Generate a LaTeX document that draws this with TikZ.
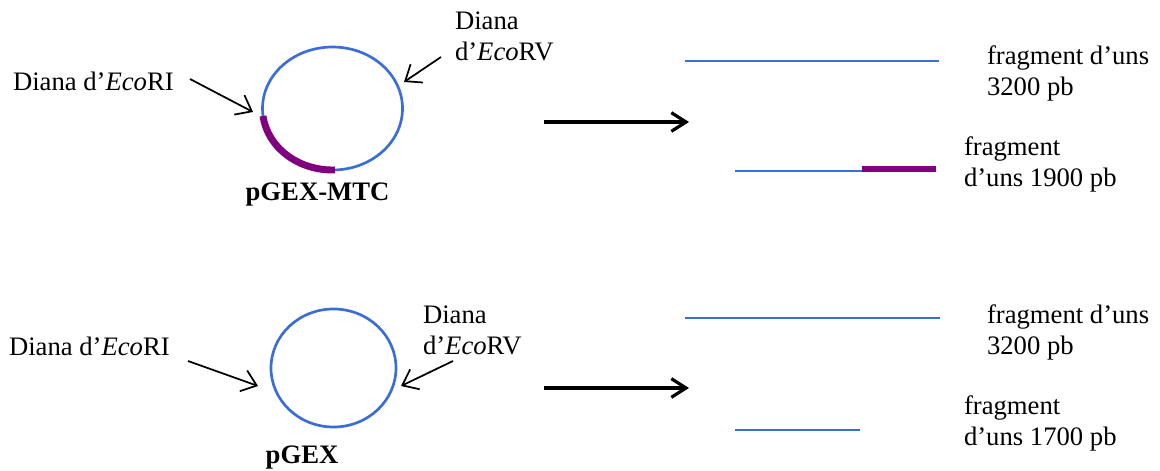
\documentclass[tikz,border=0pt]{standalone}
\usepackage{fontspec}
\setmainfont{Liberation Serif}
\usetikzlibrary{arrows.meta}
\definecolor{dnablue}{RGB}{58,110,214}
\definecolor{insertpurple}{RGB}{128,0,128}
\tikzset{
  lbl/.style={inner sep=0pt, outer sep=0pt, anchor=north west, align=left, font=\fontsize{20}{23.3}\selectfont},
  namelbl/.style={inner sep=0pt, outer sep=0pt, anchor=north, font=\fontsize{20}{23.3}\selectfont\bfseries},
  plasmid/.style={draw=dnablue, line width=2pt},
  dnaline/.style={draw=dnablue, line width=2pt},
  insertline/.style={draw=insertpurple, line width=5.2pt},
  sitearrow/.style={draw=black, line width=1.3pt, -{Straight Barb[length=10.5pt,width=16.5pt,line width=1.3pt]}},
  mainarrow/.style={draw=black, line width=2.4pt, -{Straight Barb[length=11pt,width=14pt,line width=2.4pt]}}
}
\begin{document}
\begin{tikzpicture}[x=0.75pt,y=0.75pt]
\useasboundingbox (0,0) rectangle (1160,-471);

% ---------- top: pGEX-MTC ----------
\coordinate (p1) at (332.5,-108.5);
\draw[plasmid] (p1) ellipse[x radius=70, y radius=61.5];
\draw[insertline] ([shift={(187:70 and 61.5)}]p1) arc[start angle=187, end angle=272, x radius=70, y radius=61.5];
\node[namelbl] (n1) at (317.5,-183) {pGEX-MTC};

\node[lbl] (ri1) at (13,-72) {Diana d’\textit{Eco}RI};
\coordinate (ri1a) at (190,-79);
\coordinate (ri1b) at (253,-112);
\draw[sitearrow] (ri1a) -- (ri1b);

\node[lbl] (rv1) at (455,-12) {Diana\\d’\textit{Eco}RV};
\coordinate (rv1a) at (441,-57);
\coordinate (rv1b) at (404,-82);
\draw[sitearrow] (rv1a) -- (rv1b);

\coordinate (m1a) at (544,-122);
\coordinate (m1b) at (689,-122);
\draw[mainarrow] (m1a) -- (m1b);

\coordinate (f1a) at (685,-61);
\coordinate (f1b) at (939,-61);
\draw[dnaline] (f1a) -- (f1b);
\node[lbl] (t1) at (987,-46) {fragment d’uns\\3200 pb};

\coordinate (f2a) at (735,-171);
\coordinate (f2b) at (862,-171);
\coordinate (f2c) at (936,-169);
\draw[dnaline] (f2a) -- (f2b);
\draw[insertline] (f2b |- f2c) -- (f2c);
\node[lbl] (t2) at (964,-137) {fragment\\d’uns 1900 pb};

% ---------- bottom: pGEX ----------
\coordinate (p2) at (333.5,-368);
\draw[plasmid] (p2) ellipse[x radius=62.5, y radius=59];
\node[namelbl] (n2) at (302,-446) {pGEX};

\node[lbl] (ri2) at (9,-337) {Diana d’\textit{Eco}RI};
\coordinate (ri2a) at (188,-361);
\coordinate (ri2b) at (258,-386);
\draw[sitearrow] (ri2a) -- (ri2b);

\node[lbl] (rv2) at (423,-306) {Diana\\d’\textit{Eco}RV};
\coordinate (rv2a) at (453,-361);
\coordinate (rv2b) at (401,-386);
\draw[sitearrow] (rv2a) -- (rv2b);

\coordinate (m2a) at (544,-388);
\coordinate (m2b) at (689,-388);
\draw[mainarrow] (m2a) -- (m2b);

\coordinate (f3a) at (685,-318);
\coordinate (f3b) at (940,-318);
\draw[dnaline] (f3a) -- (f3b);
\node[lbl] (t3) at (987,-305) {fragment d’uns\\3200 pb};

\coordinate (f4a) at (735,-430);
\coordinate (f4b) at (860,-430);
\draw[dnaline] (f4a) -- (f4b);
\node[lbl] (t4) at (964,-396) {fragment\\d’uns 1700 pb};
\end{tikzpicture}
\end{document}
